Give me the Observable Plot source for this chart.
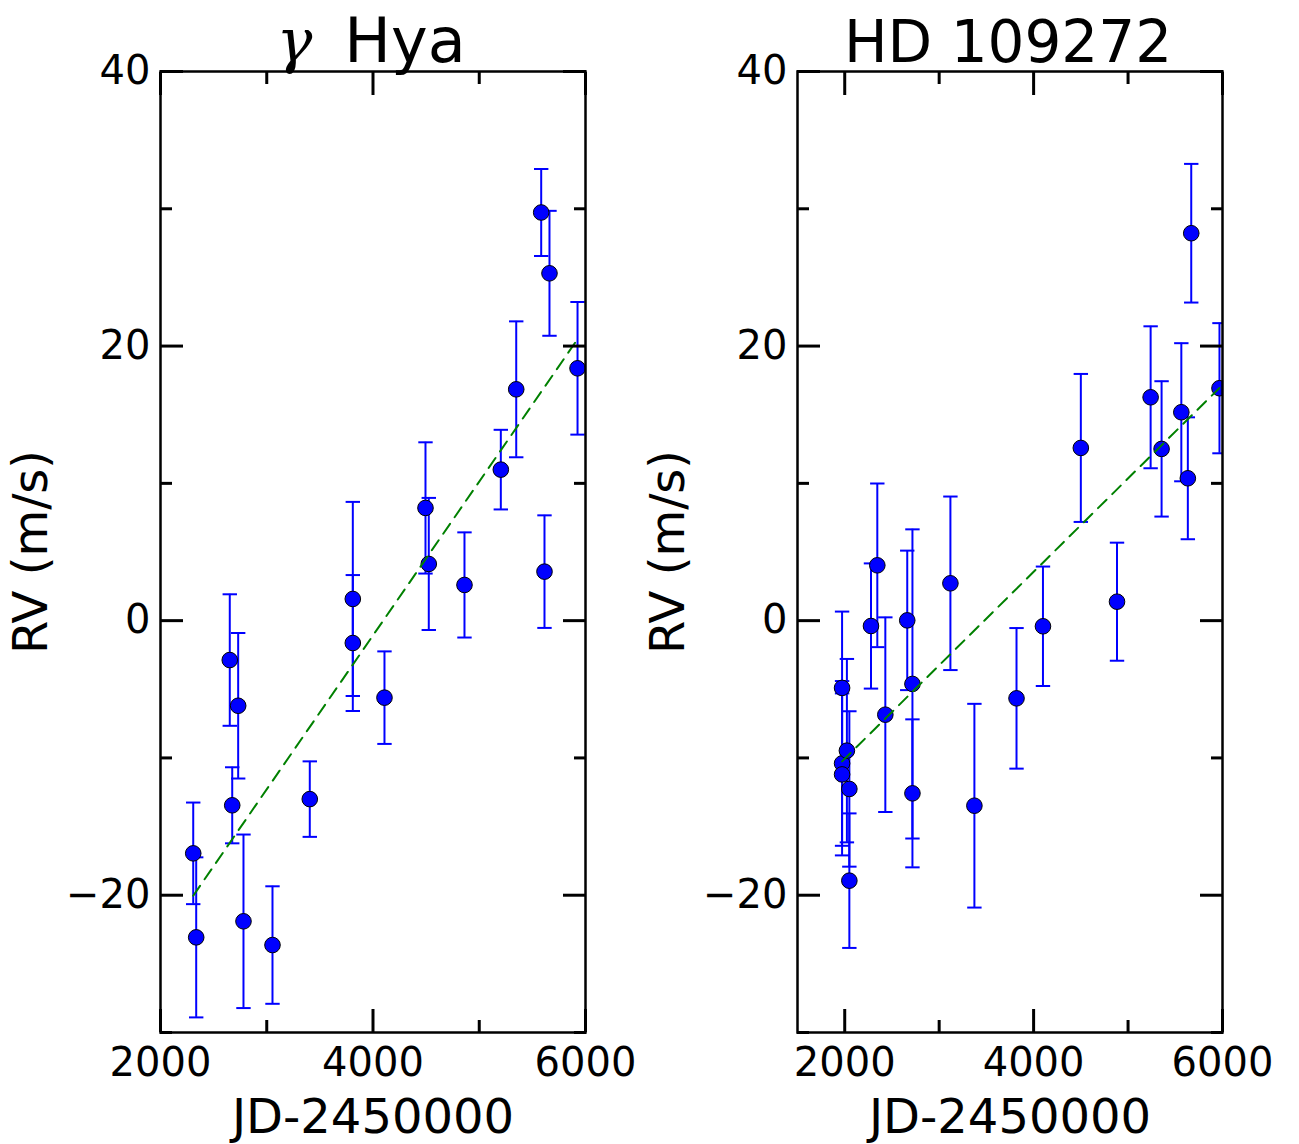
<!DOCTYPE html>
<html><head><meta charset="utf-8">
<script src="https://cdn.jsdelivr.net/npm/d3@7"></script>
<script src="https://cdn.jsdelivr.net/npm/@observablehq/plot@0.6"></script>
<style>
body{margin:0;background:#fff;}
#wrap{display:flex;width:1299px;height:1144px;}
svg{overflow:visible}
</style></head><body><div id="wrap"></div>
<script>
// γ Hya
const gammaT   = [2308, 2336, 2652, 2731, 2675, 2781, 3054, 3405, 3810, 3810, 4108, 4494, 4525, 4861, 5203, 5348, 5583, 5614, 5661, 5925];
const gammaRV  = [-16.95, -23.07, -2.87, -6.2, -13.45, -21.9, -23.63, -13.0, 1.58, -1.63, -5.61, 8.21, 4.13, 2.6, 11.0, 16.85, 29.73, 3.57, 25.3, 18.38];
const gammaErr = [3.7, 5.83, 4.79, 5.3, 2.77, 6.32, 4.28, 2.75, 7.07, 4.95, 3.37, 4.78, 4.81, 3.83, 2.9, 4.95, 3.17, 4.1, 4.55, 4.83];
const gammaTrendT  = [2308, 5925];
const gammaTrendRV = [-20.04, 20.5];

// HD 109272
const hdT   = [1972, 1972, 1972, 2023, 2049, 2049, 2278, 2345, 2430, 2662, 2717, 2717, 3119, 3373, 3819, 4099, 4500, 4883, 5239, 5355, 5564, 5633, 5669, 5968];
const hdRV  = [-4.9, -10.4, -11.2, -9.47, -12.26, -18.94, -0.39, 4.03, -6.85, 0.02, -4.61, -12.58, 2.72, -13.48, -5.66, -0.41, 12.58, 1.38, 16.27, 12.51, 15.18, 10.37, 28.22, 16.93];
const hdErr = [5.56, 6.0, 5.9, 6.68, 5.66, 4.9, 4.56, 5.96, 7.09, 5.08, 11.26, 5.39, 6.32, 7.42, 5.12, 4.35, 5.39, 4.3, 5.17, 4.93, 5.03, 4.44, 5.05, 4.74];
const hdTrendT  = [1972, 5968];
const hdTrendRV = [-10.25, 16.95];

// axes
const yDomain = [-30, 40];
const yMajor = [-20, 0, 20, 40];
const yMinor = [-30, -10, 10, 30];
const xMajor = [2000, 4000, 6000];
const xMinor = [3000, 5000];
const gammaXDomain = [2000, 6000];
const hdXDomain = [1500, 6000];

const fmt = d => d < 0 ? "\u2212" + Math.abs(d) : String(d);

const capSymbol = {
  draw(context, size) {
    const w = Math.sqrt(size / Math.PI);
    context.moveTo(-w, 0);
    context.lineTo(w, 0);
  }
};

function panel({T, RV, Err, trendT, trendRV, xDomain, title, titleSize, marginLeft, marginRight}) {
  const rows = T.map((t, i) => ({t, rv: RV[i], err: Err[i]}));
  const trend = trendT.map((t, i) => ({t, rv: trendRV[i]}));
  const blue = "#0000ff";
  const svg = Plot.plot({
    width: 640,
    height: 1144,
    marginTop: 71,
    marginBottom: 112,
    marginLeft,
    marginRight,
    style: {fontFamily: "DejaVu Sans", fontSize: "40px", color: "black", background: "white", overflow: "visible"},
    x: {domain: xDomain},
    y: {domain: yDomain},
    marks: [
      Plot.ruleX(rows, {x: "t", y1: d => d.rv - d.err, y2: d => d.rv + d.err, stroke: blue, strokeWidth: 2, clip: true}),
      Plot.dot(rows, {x: "t", y: d => d.rv + d.err, symbol: capSymbol, r: 7.2, stroke: blue, fill: "none", strokeWidth: 2, clip: true}),
      Plot.dot(rows, {x: "t", y: d => d.rv - d.err, symbol: capSymbol, r: 7.2, stroke: blue, fill: "none", strokeWidth: 2, clip: true}),
      Plot.dot(rows, {x: "t", y: "rv", r: 7.8, fill: blue, stroke: "black", strokeWidth: 1, clip: true}),
      Plot.line(trend, {x: "t", y: "rv", stroke: "#008000", strokeWidth: 2, strokeDasharray: "12,8", clip: true}),
      Plot.frame({stroke: "black", strokeWidth: 2.5}),
      // major ticks + labels
      Plot.axisX({anchor: "bottom", ticks: xMajor, tickFormat: fmt, tickSize: -23, tickPadding: 38, strokeWidth: 3, label: null, fontSize: 40}),
      Plot.axisX({anchor: "top", ticks: xMajor, tickSize: -23, strokeWidth: 3, fill: "none", label: null}),
      Plot.axisY({anchor: "left", ticks: yMajor, tickFormat: fmt, tickSize: -23, tickPadding: 33, strokeWidth: 3, label: null, fontSize: 40}),
      Plot.axisY({anchor: "right", ticks: yMajor, tickSize: -23, strokeWidth: 3, fill: "none", label: null}),
      // minor ticks
      Plot.axisX({anchor: "bottom", ticks: xMinor, tickSize: -12, strokeWidth: 3, fill: "none", label: null}),
      Plot.axisX({anchor: "top", ticks: xMinor, tickSize: -12, strokeWidth: 3, fill: "none", label: null}),
      Plot.axisY({anchor: "left", ticks: yMinor, tickSize: -12, strokeWidth: 3, fill: "none", label: null}),
      Plot.axisY({anchor: "right", ticks: yMinor, tickSize: -12, strokeWidth: 3, fill: "none", label: null}),
      // labels
      Plot.text(["JD-2450000"], {frameAnchor: "bottom", dy: 100, lineAnchor: "bottom", fontSize: 48, fill: "black"}),
      Plot.text(["RV (m/s)"], {frameAnchor: "left", dx: -129, rotate: -90, lineAnchor: "middle", textAnchor: "middle", fontSize: 48, fill: "black"}),
      Plot.text([title], {frameAnchor: "top", dy: -10, dx: -2, lineAnchor: "bottom", fontSize: titleSize, fill: "black"})
    ]
  });
  return svg;
}

const wrap = document.getElementById("wrap");
const p1 = panel({T: gammaT, RV: gammaRV, Err: gammaErr, trendT: gammaTrendT, trendRV: gammaTrendRV, xDomain: gammaXDomain, title: "γ Hya", titleSize: 62, marginLeft: 160, marginRight: 55});
const p2 = panel({T: hdT, RV: hdRV, Err: hdErr, trendT: hdTrendT, trendRV: hdTrendRV, xDomain: hdXDomain, title: "HD 109272", titleSize: 58, marginLeft: 157, marginRight: 58});
wrap.appendChild(p1);
wrap.appendChild(p2);

// italic (math-style) gamma in title
p1.querySelectorAll("text").forEach(t => {
  if (t.textContent === "γ Hya") {
    t.textContent = "";
    const ns = "http://www.w3.org/2000/svg";
    const a = document.createElementNS(ns, "tspan");
    a.setAttribute("font-style", "italic");
    a.setAttribute("font-family", "DejaVu Serif");
    a.setAttribute("font-weight", "300");
    a.setAttribute("font-size", "60");
    a.textContent = "γ";
    const b = document.createElementNS(ns, "tspan");
    b.textContent = "\u2009 Hya";
    t.appendChild(a);
    t.appendChild(b);
  }
});
</script>
</body></html>
